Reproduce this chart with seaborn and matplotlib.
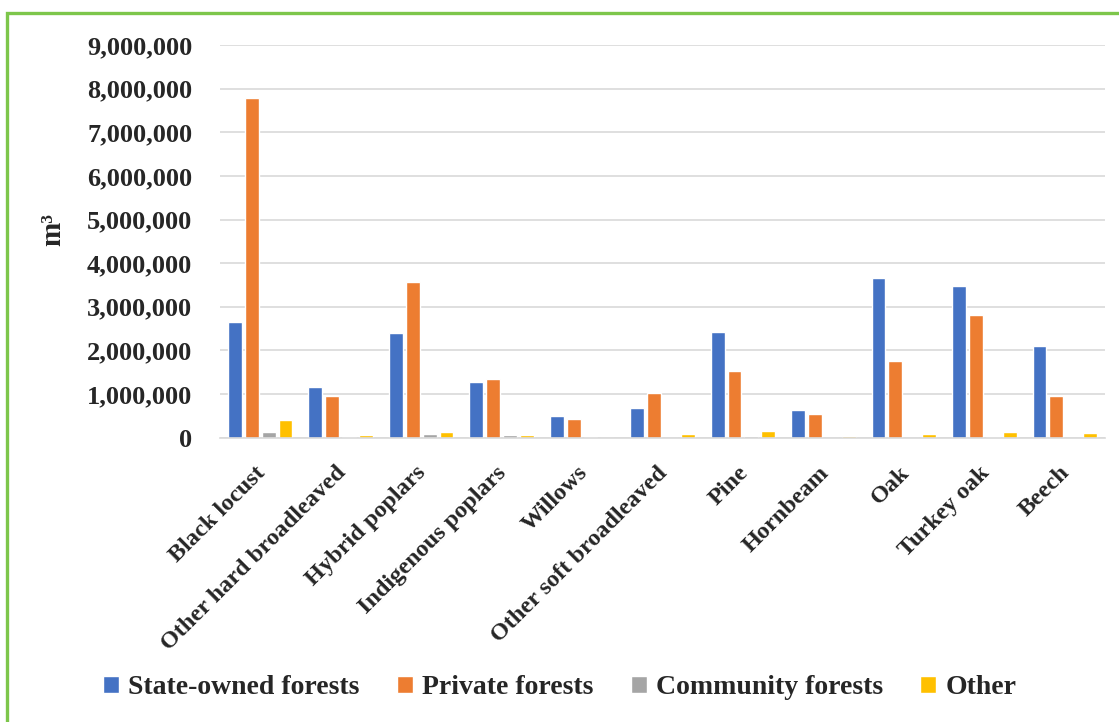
import matplotlib
matplotlib.use("Agg")
import matplotlib.pyplot as plt
import matplotlib.transforms as mtransforms
from matplotlib.patches import Rectangle
from matplotlib.ticker import FuncFormatter
import pandas as pd
import seaborn as sns

species = ["Black locust", "Other hard broadleaved", "Hybrid poplars",
           "Indigenous poplars", "Willows", "Other soft broadleaved", "Pine",
           "Hornbeam", "Oak", "Turkey oak", "Beech"]
ownership = ["State-owned forests", "Private forests", "Community forests", "Other"]

state_owned = [2650000, 1160000, 2400000, 1280000, 500000, 690000, 2430000,
               640000, 3670000, 3480000, 2100000]
private = [7780000, 960000, 3570000, 1350000, 420000, 1030000, 1520000,
           540000, 1750000, 2820000, 960000]
community = [140000, 10000, 85000, 70000, 10000, 0, 40000, 0, 0, 10000, 0]
other = [400000, 50000, 130000, 70000, 0, 80000, 150000, 40000, 85000,
         120000, 110000]

colors = ["#4472C4", "#ED7D31", "#A5A5A5", "#FFC000"]

series = [state_owned, private, community, other]
df = pd.DataFrame({
    "species": [s for vals in series for s in species],
    "owner": [o for o, vals in zip(ownership, series) for _ in vals],
    "volume": [v for vals in series for v in vals],
})

sns.set_theme(style="white")
plt.rcParams["font.family"] = ["Liberation Serif", "DejaVu Serif"]
plt.rcParams["font.weight"] = "bold"

fig = plt.figure(figsize=(11.19, 7.22), dpi=100)
ax = fig.add_axes([0.1966, 0.3938, 0.7909, 0.5439])

sns.barplot(data=df, x="species", y="volume", hue="owner", order=species,
            hue_order=ownership, palette=colors, width=0.84, gap=0.18,
            saturation=1, ax=ax, legend=True)

ax.set_ylim(0, 9000000)
ax.set_yticks(range(0, 9000001, 1000000))
ax.yaxis.set_major_formatter(FuncFormatter(lambda v, p: f"{int(v):,}"))
ax.grid(axis="y", color="#D9D9D9", linewidth=1.2)
ax.set_axisbelow(True)
for side in ["top", "right", "left"]:
    ax.spines[side].set_visible(False)
ax.spines["bottom"].set_color("#D9D9D9")
ax.spines["bottom"].set_linewidth(1.2)

ax.tick_params(axis="y", length=0, pad=20, labelsize=19)
ax.tick_params(axis="x", length=0, pad=23, labelsize=17.5)
for lbl in ax.get_yticklabels():
    lbl.set_fontweight("bold")
offset = mtransforms.ScaledTranslation(2 / 100, 0, fig.dpi_scale_trans)
for lbl in ax.get_xticklabels():
    lbl.set_rotation(45)
    lbl.set_ha("right")
    lbl.set_va("center")
    lbl.set_rotation_mode("anchor")
    lbl.set_fontweight("bold")
    lbl.set_transform(lbl.get_transform() + offset)

ax.set_xlabel("")
ax.set_ylabel("m³", fontsize=21, fontweight="bold")
ax.yaxis.label.set_verticalalignment("center")
ax.yaxis.set_label_coords(-0.189, 0.529)

handles, labels = ax.get_legend_handles_labels()
ax.legend_.remove()
fig.legend(handles, labels, loc="center", bbox_to_anchor=(0.5, 1 - 688 / 722),
           ncol=4, frameon=False, prop={"size": 20, "weight": "bold"},
           handlelength=0.58, handleheight=0.58, handletextpad=0.32,
           columnspacing=1.35)

# outer frame
fig.patches.append(Rectangle((7 / 1119, -0.05), 1.2, 0.05 + 1 - 13 / 722,
                             transform=fig.transFigure, fill=False,
                             edgecolor="#7DC64B", linewidth=2.4))

fig.savefig("out.png", dpi=100, facecolor="white")
